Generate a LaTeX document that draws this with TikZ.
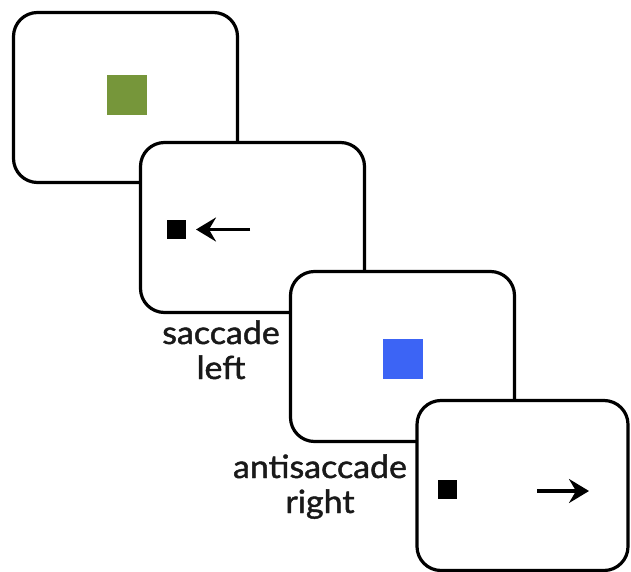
\documentclass[tikz,border=0pt]{standalone}
\usepackage{fontspec}
\usetikzlibrary{arrows.meta}
\newfontfamily\labelfont[FakeStretch=1.06,FakeBold=1.4]{Lato}
\definecolor{cuegreen}{RGB}{118,150,58}
\definecolor{cueblue}{RGB}{60,100,245}
\definecolor{inkgray}{RGB}{25,25,25}
\begin{document}
\begin{tikzpicture}[x=1pt,y=-1pt,
  screen/.style={draw=black, fill=white, line width=3.2pt, rounded corners=24pt,
    minimum width=#1, minimum height=170pt, inner sep=0pt, outer sep=0pt},
  screen/.default=224pt,
  cue/.style={inner sep=0pt, outer sep=0pt, minimum size=40pt},
  dot/.style={fill=black, inner sep=0pt, outer sep=0pt, minimum size=19pt},
  pointer/.style={line width=3.6pt, -{Stealth[length=20pt, width=24pt, inset=7pt]}},
  caption/.style={align=center, inner sep=0pt, text=inkgray,
    font=\labelfont\fontsize{32}{35}\selectfont}]
  \useasboundingbox (0,0) rectangle (631,572);

  % first screen: green fixation cue
  \node[screen] (s1) at (125.5,97.5) {};
  \node[cue, fill=cuegreen] (g) at (127,95.5) {};

  % second screen: target with leftward saccade
  \node[screen] (s2) at (252.5,227.5) {};
  \node[dot] (d2) at (176,229.5) {};
  \coordinate (a2s) at (250,229.5);
  \coordinate (a2e) at (196,229.5);
  \draw[pointer] (a2s) -- (a2e);

  % third screen: blue cue
  \node[screen] (s3) at (402.5,356.5) {};
  \node[cue, fill=cueblue] (b) at (403,358.5) {};

  % fourth screen: target with rightward antisaccade
  \node[screen=211pt] (s4) at (522.5,485.5) {};
  \node[dot] (d4) at (447,489) {};
  \coordinate (a4s) at (537,491);
  \coordinate (a4e) at (589,491);
  \draw[pointer] (a4s) -- (a4e);

  % captions (base anchor sits on the last line)
  \node[caption, anchor=base] (c1) at (221,379) {saccade\\left};
  \node[caption, anchor=base] (c2) at (320,513) {antisaccade\\right};
\end{tikzpicture}
\end{document}
